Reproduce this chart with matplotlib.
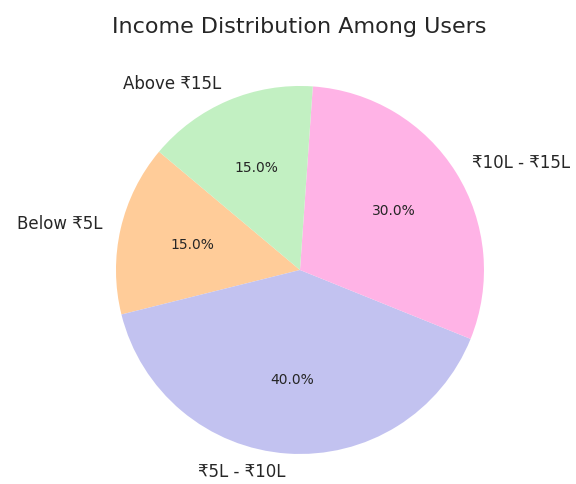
import matplotlib
matplotlib.use('Agg')
import matplotlib.pyplot as plt

plt.rcParams['font.family'] = ['DejaVu Sans']
plt.rcParams['text.color'] = '0.15'

labels = ['Below ₹5L', '₹5L - ₹10L', '₹10L - ₹15L', 'Above ₹15L']
shares = [15, 40, 30, 15]
colors = ['#ffcc99', '#c2c2f0', '#ffb3e6', '#c2f0c2']

fig = plt.figure(figsize=(5.76, 4.84), dpi=100)
ax = fig.add_axes([0.1215, -0.033, 0.7986, 0.9504])

ax.pie(shares, labels=labels, colors=colors, autopct='%1.1f%%',
       startangle=140, textprops={'fontsize': 12})
for t in ax.texts:
    if t.get_text().endswith('%'):
        t.set_fontsize(10)
ax.set_aspect('equal')

fig.text(0.519, 1 - 33 / 484, 'Income Distribution Among Users',
         ha='center', va='baseline', fontsize=16)

fig.savefig('out.png', dpi=100)
